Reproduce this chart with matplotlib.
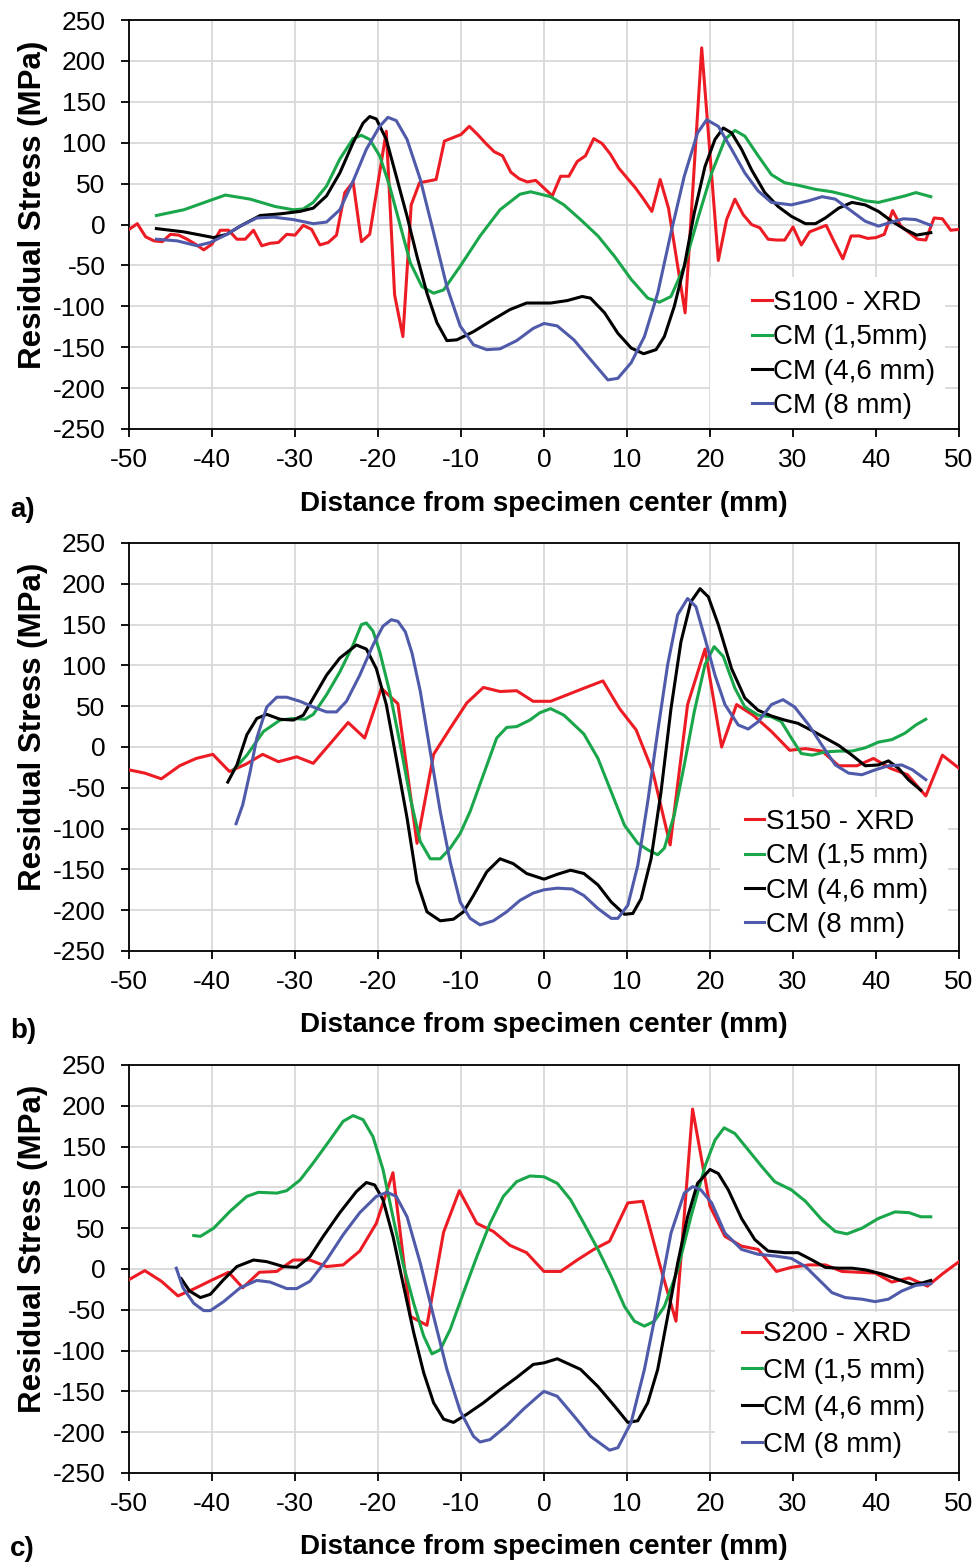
import matplotlib
matplotlib.use('Agg')
import matplotlib.pyplot as plt
from matplotlib.patches import Rectangle

plt.rcParams['font.family'] = ['Liberation Sans', 'DejaVu Sans']
plt.rcParams['axes.unicode_minus'] = False

# ---- panel a (S100) ----
a_xrd_x = [-50, -49, -48, -47, -46, -45, -44, -43, -42, -41, -40, -39, -38, -37, -36, -35, -34, -33,
           -32, -31, -30, -29, -28, -27, -26, -25, -24, -23, -22, -21, -19, -18, -17, -16, -15, -14,
           -13, -12, -11, -10, -9, -8, -7, -6, -5, -4, -3, -2, -1, 1, 2, 3, 4, 5, 6, 7, 8, 9, 10,
           11, 12, 13, 14, 15, 17, 19, 21, 22, 23, 24, 25, 26, 27, 28, 29, 30, 31, 32, 33, 34, 35,
           36, 37, 38, 39, 40, 41, 42, 43, 44, 45, 46, 47, 48, 49, 50]
a_xrd_y = [-6, 1, -15, -20, -21, -12, -13, -18, -24, -31, -24, -7, -7, -18, -18, -7, -26, -23,
           -22, -12, -13, -1, -6, -25, -22, -13, 39, 52, -21, -12, 114, -86, -137, 24, 51, 53,
           55, 102, 106, 110, 120, 110, 99, 89, 84, 64, 56, 52, 54, 35, 59, 59, 77, 84, 105, 99, 86, 69, 57,
           45, 31, 16, 55, 20, -108, 216, -44, 6, 31, 12, 0, -4, -18, -19, -19, -3, -25, -9, -5, -1, -22,
           -42, -14, -14, -17, -16, -12, 17, -2, -10, -18, -19, 8, 7, -7, -6]

a_cm15_x = [-46.7, -43.4, -38.4, -35.4, -32.4, -30.2, -29, -27.8, -26.2, -24.6, -23, -22, -21, -19.8,
            -18.6, -17.3, -16.1, -14.7, -13.3, -12.1, -10.1, -7.7, -5.3, -2.9, -1.6, 0.8, 2.4, 4.4,
            6.5, 8.5, 10.5, 12.5, 13.9, 15.3, 16.9, 18.5, 20.2, 21.8, 23, 24.2, 25.8, 27.4, 29, 30.6,
            32.7, 34.7, 36.7, 38.7, 40.3, 41.9, 43.5, 44.8, 46.6]
a_cm15_y = [11, 18, 36, 31, 22, 18, 19, 27, 47, 80, 105, 109, 104, 84,
            47, -2, -47, -76, -84, -80, -51, -14, 18, 37, 40, 34, 24, 6,
            -14, -39, -67, -90, -95, -88, -51, 6, 63, 104, 115, 108, 84, 61, 51, 48,
            43, 40, 35, 29, 27, 31, 35, 39, 34]

a_cm46_x = [-46.7, -43.4, -39.8, -38.2, -36.6, -34.2, -31.8, -29.4, -27.8, -26.2, -24.6, -23, -21.8,
            -21, -20.2, -19, -17.8, -16.5, -15.3, -14.1, -12.9, -11.7, -10.5, -8.5, -6.1, -4.1, -2.1,
            0.8, 2.8, 4.6, 5.6, 7.3, 8.9, 10.5, 12, 13.5, 14.5, 15.7, 16.9, 18.1, 19.4, 20.6, 21.6,
            22.6, 23.8, 25, 26.6, 28.2, 29.8, 31.5, 32.7, 33.9, 35.5, 37.1, 38.7, 40.3, 41.9, 43.5,
            44.9, 46.6]
a_cm46_y = [-5, -9, -16, -12, -2, 11, 13, 16, 20, 35, 63, 100, 124,
            132, 129, 104, 59, 10, -39, -84, -120, -142, -141, -131, -116, -104, -96,
            -96, -93, -88, -90, -108, -133, -151, -158, -153, -137, -100, -51, 14, 71, 104, 118,
            112, 92, 67, 39, 22, 10, 1, 1, 8, 20, 27, 24, 16, 4, -6,
            -13, -10]

a_cm8_x = [-46.7, -44.2, -41.8, -40.2, -38.2, -36.6, -34.6, -32.6, -30.2, -27.8, -26.2, -24.6, -23,
           -21.4, -19.8, -18.8, -17.8, -16.5, -14.9, -13.3, -11.7, -10.1, -8.5, -6.9, -5.3, -3.3,
           -1.3, 0, 1.6, 3.6, 5.6, 7.7, 8.9, 10.5, 12.1, 13.7, 15.3, 16.9, 18.5, 19.6, 21, 22.6,
           24.2, 25.8, 27.4, 29.8, 31.9, 33.5, 35.1, 37.1, 38.7, 40.3, 41.9, 43.3, 44.8, 46.6]
a_cm8_y = [-18, -20, -26, -22, -12, -2, 8, 9, 6, 1, 3, 18, 53,
           92, 120, 131, 127, 104, 55, -10, -76, -124, -147, -153, -152, -142,
           -127, -121, -124, -141, -165, -190, -188, -169, -137, -84, -10, 59, 112, 128, 120, 92,
           63, 41, 27, 24, 29, 34, 31, 16, 4, -2, 3, 7, 6, -1]

# ---- panel b (S150) ----
b_xrd_x = [-50, -48.1, -46.1, -43.9, -41.9, -39.9, -37.9, -35.9, -33.9, -32, -29.8, -27.8, -25.6,
           -23.6, -21.6, -19.6, -17.6, -15.3, -13.3, -11.3, -9.3, -7.3, -5.3, -3.3, -1.3, 0.8, 4.8,
           7.1, 9.1, 11.1, 13.1, 15.2, 17.3, 19.4, 21.4, 23.2, 25.2, 27.4, 29.6, 31.5, 33.5, 35.5,
           37.7, 39.7, 41.7, 43.8, 46, 48, 50]
b_xrd_y = [-28, -32, -39, -23, -14, -9, -30, -21, -9, -18, -12, -20, 6,
           30, 11, 72, 53, -118, -9, 23, 54, 73, 68, 69, 56, 56, 72,
           81, 47, 21, -30, -120, 52, 120, 0, 52, 39, 19, -4, -2, -5, -23,
           -23, -14, -26, -34, -60, -10, -26]

b_cm15_x = [-37.4, -35.8, -33.8, -31.8, -30.2, -28.8, -27.8, -26.2, -24.6, -23, -22, -21.4, -20.6,
            -19.8, -18.6, -17.3, -16.1, -14.9, -13.7, -12.5, -11.3, -10.1, -8.9, -7.3, -5.7, -4.5,
            -3.3, -1.7, -0.5, 0.8, 2.4, 4.8, 6.5, 8.1, 9.7, 11.3, 12.5, 13.7, 14.5, 15.7, 16.9, 18.1,
            19.4, 20.5, 21.6, 23, 24.2, 25.8, 27.4, 28.6, 29.8, 31, 32.3, 33.9, 35.5, 37.1, 38.7,
            40.3, 41.9, 43.5, 44.8, 46]
b_cm15_y = [-28, -10, 19, 33, 35, 34, 40, 64, 92, 125, 150, 152, 142,
            117, 68, 2, -63, -116, -137, -137, -124, -106, -79, -34, 11, 24,
            25, 33, 42, 47, 39, 16, -14, -55, -96, -118, -126, -132, -124, -83, -22, 43,
            101, 123, 111, 72, 49, 39, 37, 31, 11, -8, -10, -6, -5, -5, -1,
            6, 9, 17, 27, 34]

b_cm46_x = [-38.1, -37, -35.8, -34.6, -33.4, -31.8, -30.2, -29, -27.8, -26.2, -24.6, -22.6, -21.4,
            -20.2, -19, -17.8, -16.5, -15.3, -14.1, -12.5, -10.9, -9.7, -8.5, -6.9, -5.3, -3.7, -2.1,
            0, 1.6, 3.2, 4.8, 6.5, 8.1, 9.7, 10.7, 11.7, 12.9, 14.1, 15.3, 16.5, 17.7, 18.8, 19.8,
            21, 22.6, 24.2, 25.8, 27.4, 29, 30.6, 32.3, 33.9, 35.5, 37.1, 38.7, 40.3, 41.5, 42.7,
            43.9, 45.4]
b_cm46_y = [-43, -22, 15, 35, 40, 34, 33, 39, 60, 88, 109, 125, 120,
            96, 52, -14, -87, -165, -202, -213, -211, -202, -182, -153, -137, -143, -155,
            -162, -156, -151, -155, -169, -190, -205, -204, -186, -137, -55, 47, 129, 178, 194, 184,
            150, 96, 60, 45, 38, 33, 29, 20, 11, 2, -10, -23, -22, -17, -26,
            -40, -53]

b_cm8_x = [-37.1, -36.3, -35.4, -34.6, -33.4, -32.2, -31, -29.4, -27.8, -26.2, -25, -23.8, -22.2,
           -20.6, -19.4, -18.4, -17.6, -16.7, -15.9, -14.9, -13.7, -12.5, -11.3, -10.1, -8.9, -7.7,
           -6.1, -4.5, -2.9, -1.3, 0, 1.6, 3.4, 4.8, 6.5, 8.1, 8.9, 10.1, 11.3, 12.5, 13.7, 14.9,
           16.1, 17.3, 18.3, 19.4, 20.6, 21.8, 23.4, 24.6, 25.8, 27.4, 28.8, 30.2, 31.9, 33.5, 35.1,
           36.7, 38.3, 39.9, 41.5, 43.1, 44.4, 46]
b_cm8_y = [-94, -71, -30, 11, 49, 61, 61, 56, 49, 43, 43, 56, 88,
           125, 148, 156, 154, 141, 115, 68, -6, -79, -141, -190, -210, -218,
           -213, -202, -188, -179, -175, -173, -174, -182, -198, -210, -210, -194, -145, -67, 19, 101,
           162, 182, 172, 133, 88, 52, 27, 22, 31, 52, 58, 49, 27, 2, -22,
           -32, -34, -28, -23, -22, -28, -40]

# ---- panel c (S200) ----
c_xrd_x = [-50, -48.1, -46.1, -44.1, -42.1, -40.1, -38, -36.3, -34.3, -32.2, -30.2, -28.2, -26.2,
           -24.2, -22.2, -20.2, -18.2, -16.1, -14.1, -12.1, -10.2, -8.1, -6.1, -4.1, -2.1, 0, 2, 4,
           6, 7.9, 10.1, 11.9, 13.9, 15.9, 17.9, 20, 21.8, 23.8, 25.8, 28, 29.8, 31.9, 33.9, 35.9,
           37.9, 39.9, 41.9, 44, 46.2, 48, 50]
c_xrd_y = [-13, -2, -15, -33, -24, -14, -4, -23, -4, -3, 11, 11, 3,
           5, 22, 56, 118, -58, -69, 45, 96, 56, 46, 29, 20, -3, -3, 11,
           24, 34, 81, 83, 7, -64, 196, 77, 40, 28, 24, -3, 2, 5, 5, -3,
           -4, -5, -16, -11, -21, -6, 9]

c_cm15_x = [-42.2, -41.4, -39.8, -37.8, -35.8, -34.4, -32.2, -31, -29.4, -27.8, -25.8, -24.2, -23,
            -21.8, -20.6, -19.4, -18.2, -17, -15.7, -14.5, -13.5, -12.5, -11.3, -9.7, -8.1, -6.5,
            -4.9, -3.3, -1.7, 0, 1.6, 3.2, 4.8, 6.5, 8.1, 9.7, 10.9, 12.1, 13.3, 14.5, 16.1, 17.7,
            19.4, 20.6, 21.7, 23, 24.6, 26.2, 27.8, 29.8, 31.5, 33.5, 35.1, 36.5, 38.3, 40.3, 42.3,
            44, 45.4, 46.6]
c_cm15_y = [41, 40, 50, 71, 89, 94, 93, 96, 109, 130, 158, 181, 188,
            183, 162, 122, 64, 7, -42, -82, -104, -99, -74, -29, 15, 56,
            89, 107, 114, 113, 105, 85, 56, 24, -9, -46, -64, -70, -64, -46, -1, 64,
            126, 158, 173, 166, 146, 126, 107, 97, 83, 60, 46, 43, 50, 62, 70,
            69, 64, 64]

c_cm46_x = [-43.7, -42.7, -41.4, -40.2, -38.6, -37, -35, -33.4, -31.4, -29.8, -28.2, -26.6, -24.6,
            -22.6, -21.4, -20.4, -19.4, -18.2, -17, -15.7, -14.5, -13.3, -12.1, -10.9, -9.3, -7.3,
            -5.3, -3.3, -1.3, 0, 1.6, 4.4, 6.5, 8.5, 10.1, 11.3, 12.5, 13.7, 14.9, 16.1, 17.3, 18.5,
            20, 21, 22.2, 23.8, 25.4, 27, 29, 30.6, 32.3, 33.9, 35.5, 37.1, 38.7, 40.7, 42.7, 44.4,
            45.6, 46.6]
c_cm46_y = [-12, -27, -35, -31, -13, 3, 11, 9, 3, 2, 15, 40, 69,
            95, 106, 103, 85, 40, -17, -78, -127, -164, -184, -188, -178, -164,
            -148, -133, -117, -115, -110, -123, -144, -168, -188, -186, -164, -123, -58, 7, 64, 105,
            122, 117, 97, 62, 36, 22, 20, 20, 11, 2, 1, 1, -1, -6, -13, -19,
            -17, -14]

c_cm8_x = [-44.3, -43.5, -42.2, -41, -40.2, -38.6, -36.6, -34.6, -33, -31, -29.8, -28.2, -26.2,
           -24.2, -22.2, -20.2, -18.9, -17.8, -16.5, -14.9, -13.3, -11.7, -10.1, -8.5, -7.7, -6.5,
           -4.5, -2.5, -0.5, 0, 1.6, 3.6, 5.6, 7.9, 8.9, 10.5, 12.1, 13.7, 15.3, 16.9, 17.9, 18.9,
           20.2, 21.8, 23.8, 25.8, 27.8, 29.8, 31.5, 33.1, 34.7, 36.3, 38.3, 39.9, 41.5, 43.1, 44.8,
           46.6]
c_cm8_y = [1, -23, -42, -51, -51, -40, -23, -14, -16, -24, -24, -15, 11,
           42, 69, 89, 94, 89, 64, 7, -58, -123, -174, -205, -212, -209,
           -192, -172, -154, -150, -156, -180, -205, -222, -219, -188, -123, -42, 44, 93, 101, 97,
           81, 44, 24, 18, 16, 13, 3, -13, -29, -35, -37, -40, -37, -27, -20,
           -18]

xrd_labels = ['S100 - XRD', 'S150 - XRD', 'S200 - XRD']
cm15_labels = ['CM (1,5mm)', 'CM (1,5 mm)', 'CM (1,5 mm)']
cm46_label = 'CM (4,6 mm)'
cm8_label = 'CM (8 mm)'
panel_tags = ['a)', 'b)', 'c)']

RED = '#ED1C24'
GREEN = '#1AA64A'
BLACK = '#000000'
BLUE = '#4F5BAA'

panels = [
    (a_xrd_x, a_xrd_y, a_cm15_x, a_cm15_y, a_cm46_x, a_cm46_y, a_cm8_x, a_cm8_y),
    (b_xrd_x, b_xrd_y, b_cm15_x, b_cm15_y, b_cm46_x, b_cm46_y, b_cm8_x, b_cm8_y),
    (c_xrd_x, c_xrd_y, c_cm15_x, c_cm15_y, c_cm46_x, c_cm46_y, c_cm8_x, c_cm8_y),
]

W, H = 975, 1562
fig = plt.figure(figsize=(W / 100, H / 100), dpi=100)

# axes boxes in pixels: left, top, right, bottom
ax_px = [(129, 20, 959, 429), (129, 543, 959, 951), (129, 1065, 959, 1473)]
leg_anchor = [(0.751, 0.340), (0.742, 0.348), (0.739, 0.372)]
leg_spacing = [0.3, 0.3, 0.39]
leg_box = [(0.700, 0.283, 0.372), (0.712, 0.275, 0.377), (0.706, 0.281, 0.395)]
tag_base = [517, 1038, 1556]

for i, (xx, xy, gx, gy, kx, ky, bx, by) in enumerate(panels):
    l, t, r, b = ax_px[i]
    ax = fig.add_axes([l / W, 1 - b / H, (r - l) / W, (b - t) / H])
    ax.set_axisbelow(True)
    ax.grid(True, color='#d9d9d9', linewidth=1.3)

    # white legend area that hides the grid
    x0, w, h = leg_box[i]
    ax.add_patch(Rectangle((x0, 0), w, h, transform=ax.transAxes,
                           facecolor='white', edgecolor='none', zorder=1))

    ax.plot(xx, xy, color=RED, lw=2.2, label=xrd_labels[i], zorder=3)
    ax.plot(gx, gy, color=GREEN, lw=2.2, label=cm15_labels[i], zorder=3)
    ax.plot(kx, ky, color=BLACK, lw=2.2, label=cm46_label, zorder=3)
    ax.plot(bx, by, color=BLUE, lw=2.2, label=cm8_label, zorder=3)

    ax.set_xlim(-50, 50)
    ax.set_ylim(-250, 250)
    ax.set_xticks(range(-50, 51, 10))
    ax.set_yticks(range(-250, 251, 50))
    ax.tick_params(direction='out', length=6, width=1.3, labelsize=19, colors='black')
    ax.tick_params(axis='y', pad=11)
    ax.tick_params(axis='x', pad=8)
    for s in ax.spines.values():
        s.set_linewidth(1.3)
        s.set_color('black')

    ax.set_xlabel('Distance from specimen center (mm)', fontsize=20, fontweight='bold', labelpad=13)
    ax.set_ylabel('Residual Stress (MPa)', fontsize=22.5, fontweight='bold')
    ax.yaxis.set_label_coords(-0.098, 0.549)

    ax.legend(loc='upper left', bbox_to_anchor=leg_anchor[i], frameon=False,
              fontsize=20, handlelength=0.7, handletextpad=0.05, labelspacing=leg_spacing[i],
              borderpad=0, borderaxespad=0)

    fig.text(10 / W, 1 - tag_base[i] / H, panel_tags[i], fontsize=20, fontweight='bold',
             va='baseline', ha='left')

fig.savefig('out.png', dpi=100)
